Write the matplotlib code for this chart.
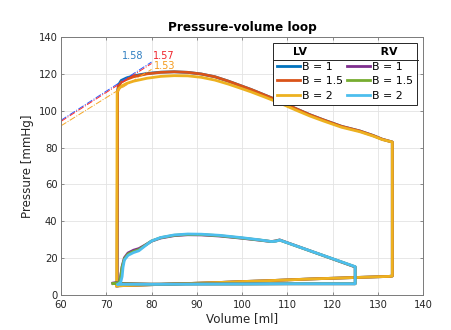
import numpy as np
import matplotlib
matplotlib.use("Agg")
import matplotlib.pyplot as plt
from matplotlib.lines import Line2D

# ---- data ----
# LV loops (volume [ml], pressure [mmHg])
lv_b1_vol = [72.4, 75, 80, 85, 90, 95, 100, 105, 110, 115, 120, 125, 130, 132.5, 133.2,
             133.2, 131, 129, 126, 122, 118, 115, 112, 108, 105, 102, 100, 97, 94, 91,
             88, 85, 82, 79, 76, 74.5, 73.3, 72.7, 72.5, 72.4]
lv_b1_p = [5.0, 5.2, 5.6, 6.0, 6.4, 6.8, 7.3, 7.7, 8.2, 8.7, 9.1, 9.5, 9.9, 10.1, 10.3,
           83.0, 84.5, 86.5, 89.0, 91.5, 95.0, 97.8, 101.0, 105.5, 108.5, 111.5, 113.3, 116.0, 118.4, 119.9,
           120.8, 121.1, 120.9, 120.2, 118.9, 117.8, 116.4, 114.0, 110.5, 5.0]

lv_b15_vol = lv_b1_vol
lv_b15_p = [5.0, 5.2, 5.6, 6.0, 6.4, 6.8, 7.3, 7.7, 8.2, 8.7, 9.1, 9.5, 9.9, 10.1, 10.3,
            83.0, 84.5, 86.5, 89.0, 91.5, 95.0, 97.8, 101.0, 105.5, 108.5, 111.5, 113.3, 116.0, 118.4, 119.9,
            120.8, 121.1, 120.8, 120.0, 118.4, 117.0, 115.5, 113.0, 110.0, 5.0]

lv_b2_vol = [72.3, 75, 80, 85, 90, 95, 100, 105, 110, 115, 120, 125, 130, 132.5, 133.2,
             133.2, 131, 129, 126, 122, 118, 115, 112, 108, 105, 102, 100, 97, 94, 91,
             88, 85, 82, 79, 76, 74.5, 73.5, 72.8, 72.4, 72.3]
lv_b2_p = [5.0, 5.2, 5.6, 6.0, 6.4, 6.8, 7.3, 7.7, 8.2, 8.7, 9.1, 9.5, 9.9, 10.1, 10.3,
           83.0, 84.3, 86.2, 88.6, 91.0, 94.4, 97.1, 100.2, 104.5, 107.4, 110.2, 111.9, 114.4, 116.6, 118.1,
           118.9, 119.0, 118.6, 117.6, 116.0, 114.8, 113.5, 112.0, 110.0, 5.0]

# RV loops
rv_b1_vol = [71.5, 80, 90, 100, 110, 120, 125, 125, 108.3, 107.5, 106.5, 104, 100, 95, 91,
             88, 85, 82, 80, 78.5, 77.2, 76, 74.8, 74.0, 73.5, 73.2, 72.9, 71.5]
rv_b1_p = [6.4, 5.9, 6.0, 6.0, 6.1, 6.1, 6.1, 15.2, 29.9, 29.4, 29.0, 29.7, 30.8, 32.0, 32.6,
           32.7, 32.2, 30.9, 29.2, 27.0, 25.2, 24.3, 22.8, 20.2, 15.5, 10.5, 7.0, 6.4]

rv_b15_vol = rv_b1_vol
rv_b15_p = [6.2, 5.9, 6.0, 6.0, 6.1, 6.1, 6.1, 15.3, 29.8, 29.3, 29.0, 29.8, 30.9, 32.2, 32.8,
            32.9, 32.4, 31.1, 29.3, 26.8, 24.6, 23.6, 22.2, 19.6, 15.2, 10.3, 6.9, 6.2]

rv_b2_vol = [72.6, 80, 90, 100, 110, 120, 125, 125, 108.3, 107.5, 106.5, 104, 100, 95, 91,
             88, 85, 82, 80, 78.5, 77.2, 76, 74.8, 74.0, 73.7, 73.5, 73.2, 72.6]
rv_b2_p = [5.8, 5.8, 5.9, 6.0, 6.1, 6.1, 6.1, 15.4, 29.8, 29.2, 29.0, 29.9, 31.1, 32.4, 33.0,
           33.1, 32.6, 31.2, 29.3, 26.5, 24.0, 23.0, 21.5, 19.0, 15.0, 10.0, 7.0, 5.8]

# end-systolic elastance lines (P = E * V)
espvr_vol = [60, 80]
espvr_slopes = [1.58, 1.57, 1.53]
espvr_labels = ['1.58', '1.57', '1.53']

legend_labels = ['B = 1', 'B = 1.5', 'B = 2']

# MATLAB default colours
lv_colors = ['#0072BD', '#D95319', '#EDB120']
rv_colors = ['#7E2F8E', '#77AC30', '#4DBEEE']
espvr_colors = ['#2b5cff', '#ff2b2b', '#f5a623']
espvr_text_colors = ['#2f7ec1', '#f0232a', '#f39a1d']

plt.rcParams['font.family'] = 'DejaVu Sans'

fig = plt.figure(figsize=(4.52, 3.30), dpi=100)
ax = fig.add_axes([0.135, 0.106, 0.801, 0.782])

lv_loops = [(lv_b1_vol, lv_b1_p), (lv_b15_vol, lv_b15_p), (lv_b2_vol, lv_b2_p)]
rv_loops = [(rv_b1_vol, rv_b1_p), (rv_b15_vol, rv_b15_p), (rv_b2_vol, rv_b2_p)]

lv_handles = []
for (v, p), c, lab in zip(lv_loops, lv_colors, legend_labels):
    h, = ax.plot(v, p, color=c, lw=2.0, solid_joinstyle='round', label=lab)
    lv_handles.append(h)

rv_handles = []
for (v, p), c, lab in zip(rv_loops, rv_colors, legend_labels):
    h, = ax.plot(v, p, color=c, lw=2.0, solid_joinstyle='round', label=lab)
    rv_handles.append(h)

# ESPVR lines and slope labels
vv = np.array(espvr_vol, dtype=float)
for e, c in zip(espvr_slopes, espvr_colors):
    ax.plot(vv, e * vv, ls='-.', color=c, lw=0.7)

ax.text(75.9, 129.8, espvr_labels[0], color=espvr_text_colors[0], fontsize=7, ha='center', va='center')
ax.text(82.8, 129.8, espvr_labels[1], color=espvr_text_colors[1], fontsize=7, ha='center', va='center')
ax.text(82.8, 124.2, espvr_labels[2], color=espvr_text_colors[2], fontsize=7, ha='center', va='center')

ax.set_xlim(60, 140)
ax.set_ylim(0, 140)
ax.set_xticks(np.arange(60, 141, 10))
ax.set_yticks(np.arange(0, 141, 20))

ax.grid(True, color='#e3e3e3', lw=0.6)
ax.set_axisbelow(True)
for s in ax.spines.values():
    s.set_color('#7a7a7a')
    s.set_linewidth(0.7)
ax.tick_params(direction='in', top=True, right=True, length=2.3, width=0.6,
               color='#7a7a7a', labelsize=7.2, labelcolor='#262626', pad=2.5)
ax.tick_params(axis='x', pad=3.5)

ax.set_xlabel('Volume [ml]', fontsize=8.6, color='#262626', labelpad=1.3)
ax.set_ylabel('Pressure [mmHg]', fontsize=8.6, color='#262626', labelpad=3)
ax.set_title('Pressure-volume loop', fontsize=8.7, fontweight='bold', pad=4)

# two-column legend with LV / RV header
leg = ax.legend(lv_handles + rv_handles, legend_labels + legend_labels, ncol=2,
                loc='upper right', bbox_to_anchor=(0.983, 0.976), borderaxespad=0,
                fontsize=7.9, title='LV' + ' ' * 19 + 'RV',
                title_fontproperties={'weight': 'bold', 'size': 7.9},
                frameon=True, fancybox=False, edgecolor='#262626', framealpha=1,
                handlelength=2.1, handletextpad=0.2, columnspacing=0.35,
                labelspacing=0.42, borderpad=0.35)
leg.get_frame().set_linewidth(0.7)

# separator line under legend title
fig.canvas.draw()
W, H = fig.canvas.get_width_height()
lb = leg.get_window_extent()
tb = leg.get_title().get_window_extent()
ysep = (tb.y0 - 3) / H
fig.add_artist(Line2D([lb.x0 / W, lb.x1 / W], [ysep, ysep], transform=fig.transFigure,
                      color='#262626', lw=0.7, zorder=10))

fig.savefig('out.png', dpi=100)
